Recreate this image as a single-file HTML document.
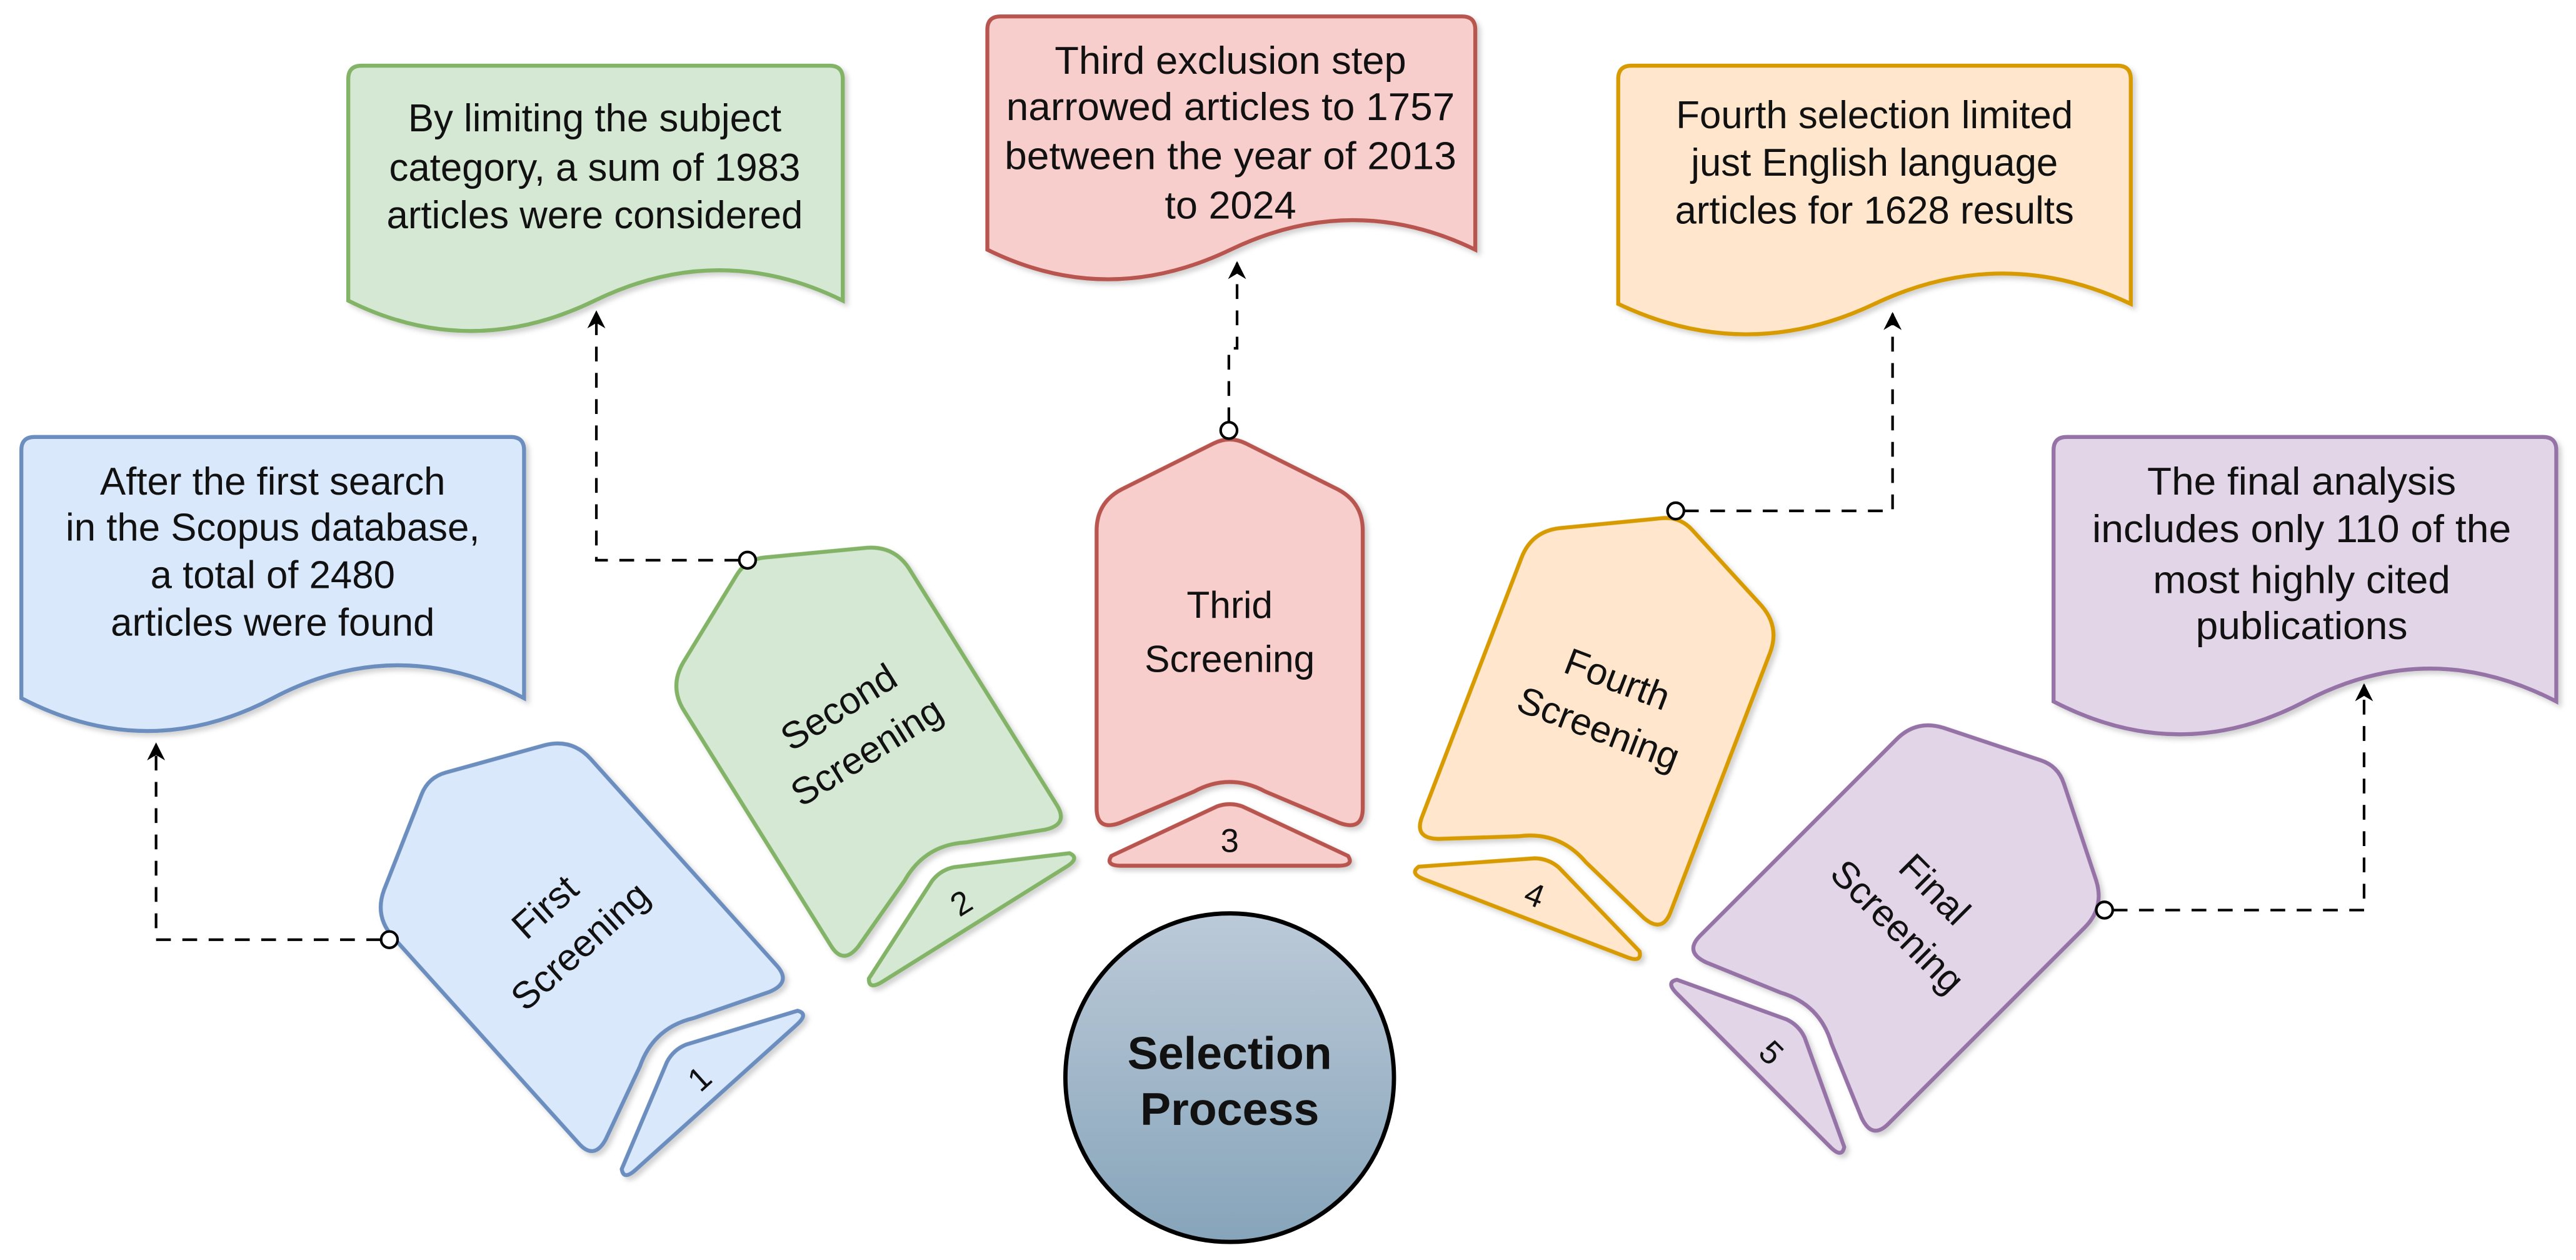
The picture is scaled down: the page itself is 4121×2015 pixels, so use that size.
<!DOCTYPE html>
<html><head><meta charset="utf-8"><style>
html,body{margin:0;padding:0;background:#fff;}
svg{display:block;}
text{font-family:"Liberation Sans",Arial,sans-serif;fill:#111;}
</style></head><body>
<svg width="4121" height="2015" viewBox="0 0 1568 767" preserveAspectRatio="none" xmlns="http://www.w3.org/2000/svg">
<defs>
<linearGradient id="g" x1="0" y1="0" x2="0" y2="1"><stop offset="0" stop-color="#bccad8"/><stop offset="1" stop-color="#86a4ba"/></linearGradient>
<filter id="sh" x="-20%" y="-20%" width="140%" height="140%"><feDropShadow dx="2" dy="2" stdDeviation="1.5" flood-color="#000" flood-opacity="0.18"/></filter>
<marker id="ar" viewBox="0 0 10 10" refX="9" refY="5" markerWidth="13" markerHeight="11" markerUnits="userSpaceOnUse" orient="auto"><path d="M0,0 L10,5 L0,10 L3,5 Z" fill="#000"/></marker>
<path id="shp" d="M -10,-136 Q 0,-141 10,-136 L 66,-108 Q 81,-100 81,-83 L 81,86 Q 81,100 67,95 L 22,76 Q 0,64 -22,76 L -67,95 Q -81,100 -81,86 L -81,-83 Q -81,-100 -66,-108 Z"/>
<path id="tab" d="M -72,115 Q -76,121 -66,121 L 66,121 Q 76,121 72,115 L 8,85 Q 0,82 -8,85 Z"/>
</defs>

<g stroke-width="2.4" filter="url(#sh)">
<path d="M13,425 L13,274 Q13,266 21,266 L311,266 Q319,266 319,274 L319,425 Q242,385 166,425 T13,425 Z" fill="#dae8fc" stroke="#6c8ebf"/>
<path d="M212,183 L212,48 Q212,40 220,40 L505,40 Q513,40 513,48 L513,183 Q438,146 362,183 T212,183 Z" fill="#d5e8d4" stroke="#82b366"/>
<path d="M601,152 L601,18 Q601,10 609,10 L890,10 Q898,10 898,18 L898,152 Q824,116 749,152 T601,152 Z" fill="#f8cecc" stroke="#b85450"/>
<path d="M985,185 L985,48 Q985,40 993,40 L1289,40 Q1297,40 1297,48 L1297,185 Q1219,148 1141,185 T985,185 Z" fill="#ffe6cc" stroke="#d79b00"/>
<path d="M1250,427 L1250,274 Q1250,266 1258,266 L1548,266 Q1556,266 1556,274 L1556,427 Q1479,387 1403,427 T1250,427 Z" fill="#e1d5e7" stroke="#9673a6"/>
</g>

<g font-size="23.5" text-anchor="middle">
<text x="166" y="301">After the first search</text>
<text x="166" y="329">in the Scopus database,</text>
<text x="166" y="358">a total of 2480</text>
<text x="166" y="387">articles were found</text>

<text x="362" y="80">By limiting the subject</text>
<text x="362" y="110">category, a sum of 1983</text>
<text x="362" y="139">articles were considered</text>

<text x="749" y="45" textLength="214" lengthAdjust="spacingAndGlyphs">Third exclusion step</text>
<text x="749" y="73" textLength="273" lengthAdjust="spacingAndGlyphs">narrowed articles to 1757</text>
<text x="749" y="103" textLength="275" lengthAdjust="spacingAndGlyphs">between the year of 2013</text>
<text x="749" y="133" textLength="80" lengthAdjust="spacingAndGlyphs">to 2024</text>

<text x="1141" y="78">Fourth selection limited</text>
<text x="1141" y="107">just English language</text>
<text x="1141" y="136">articles for 1628 results</text>

<text x="1401" y="301" textLength="188" lengthAdjust="spacingAndGlyphs">The final analysis</text>
<text x="1401" y="330" textLength="255" lengthAdjust="spacingAndGlyphs">includes only 110 of the</text>
<text x="1401" y="361" textLength="181" lengthAdjust="spacingAndGlyphs">most highly cited</text>
<text x="1401" y="389" textLength="129" lengthAdjust="spacingAndGlyphs">publications</text>
</g>

<g fill="none" stroke="#000" stroke-width="1.6" stroke-dasharray="9 7">
<path d="M232,572 L95,572 L95,453" marker-end="url(#ar)"/>
<path d="M450,341 L363,341 L363,190" marker-end="url(#ar)"/>
<path d="M748,257 L748,212 L753,212 L753,160" marker-end="url(#ar)"/>
<path d="M1025,311 L1152,311 L1152,191" marker-end="url(#ar)"/>
<path d="M1286,554 L1439,554 L1439,417" marker-end="url(#ar)"/>
</g>

<g stroke-width="2.4" filter="url(#sh)">
<g transform="translate(355,578) rotate(-42)" fill="#dae8fc" stroke="#6c8ebf"><use href="#shp"/><use href="#tab"/></g>
<g transform="translate(529,460) rotate(-32)" fill="#d5e8d4" stroke="#82b366"><use href="#shp"/><use href="#tab"/></g>
<g transform="translate(748.5,406)" fill="#f8cecc" stroke="#b85450"><use href="#shp"/><use href="#tab"/></g>
<g transform="translate(972,446) rotate(21)" fill="#ffe6cc" stroke="#d79b00"><use href="#shp"/><use href="#tab"/></g>
<g transform="translate(1153,566) rotate(45)" fill="#e1d5e7" stroke="#9673a6"><use href="#shp"/><use href="#tab"/></g>
</g>

<g font-size="23" text-anchor="middle" dominant-baseline="central">
<g transform="translate(355,578) rotate(-42)"><text y="-35">First</text><text y="-3">Screening</text><text y="106" font-size="20">1</text></g>
<g transform="translate(529,460) rotate(-32)"><text y="-35">Second</text><text y="-3">Screening</text><text y="106" font-size="20">2</text></g>
<g transform="translate(748.5,406)"><text y="-38">Thrid</text><text y="-5">Screening</text><text y="106" font-size="20">3</text></g>
<g transform="translate(972,446) rotate(21)"><text y="-35">Fourth</text><text y="-3">Screening</text><text y="106" font-size="20">4</text></g>
<g transform="translate(1153,566) rotate(45)"><text y="-35">Final</text><text y="-3">Screening</text><text y="106" font-size="20">5</text></g>
</g>

<g fill="#fff" stroke="#000" stroke-width="1.6">
<circle cx="237" cy="572" r="5"/>
<circle cx="455" cy="341" r="5"/>
<circle cx="748" cy="262" r="5"/>
<circle cx="1020" cy="311" r="5"/>
<circle cx="1281" cy="554" r="5"/>
</g>

<circle cx="748.5" cy="656" r="100" fill="url(#g)" stroke="#000" stroke-width="2.6"/>
<g font-size="28" font-weight="bold" text-anchor="middle" dominant-baseline="central">
<text x="748.5" y="641">Selection</text>
<text x="748.5" y="675">Process</text>
</g>
</svg>
</body></html>
